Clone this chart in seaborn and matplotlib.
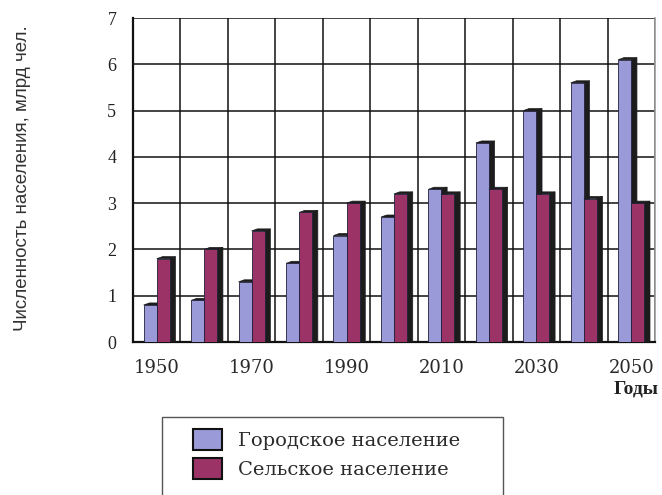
import numpy as np
import pandas as pd
import matplotlib
matplotlib.use("Agg")
import matplotlib.pyplot as plt
from matplotlib.patches import Polygon, Rectangle
import seaborn as sns

years = [1950, 1960, 1970, 1980, 1990, 2000, 2010, 2020, 2030, 2040, 2050]
urban = [0.8, 0.9, 1.3, 1.7, 2.3, 2.7, 3.3, 4.3, 5.0, 5.6, 6.1]
rural = [1.8, 2.0, 2.4, 2.8, 3.0, 3.2, 3.2, 3.3, 3.2, 3.1, 3.0]
series_names = ["Городское население", "Сельское население"]
colors = ["#9a9ad8", "#9b3367"]
year_labels = ["1950", "1970", "1990", "2010", "2030", "2050"]

df = pd.DataFrame({
    "year": [str(y) for y in years] * 2,
    "value": urban + rural,
    "series": [series_names[0]] * len(years) + [series_names[1]] * len(years),
})

sns.set_style("white")
serif = ["Liberation Serif", "DejaVu Serif"]
wide_serif = ["DejaVu Serif"]
sans = ["Liberation Sans", "DejaVu Sans"]

fig = plt.figure(figsize=(6.62, 4.95), dpi=100)
ax = fig.add_axes([0.2009, 0.309, 0.7885, 0.6545])

sns.barplot(data=df, x="year", y="value", hue="series", palette=colors,
            width=0.55, saturation=1, edgecolor="#20203a", linewidth=0.6,
            ax=ax, legend=True)

# pseudo-3D depth: dark side and top faces behind each bar
dx, dy = 0.12, 0.045
side_color = "#1c1c1c"
for i, cont in enumerate(ax.containers):
    for bar in cont:
        x0 = bar.get_x()
        w = bar.get_width()
        h = bar.get_height()
        x1 = x0 + w
        z = 3 + i
        bar.set_zorder(z + 0.1)
        side = Polygon([(x1, 0), (x1, h), (x1 + dx, h + dy), (x1 + dx, 0)],
                       closed=True, facecolor=side_color, edgecolor=side_color,
                       linewidth=0.5, zorder=z)
        top = Polygon([(x0, h), (x0 + dx, h + dy), (x1 + dx, h + dy), (x1, h)],
                      closed=True, facecolor=side_color, edgecolor=side_color,
                      linewidth=0.5, zorder=z)
        ax.add_patch(side)
        ax.add_patch(top)

handles, labels = ax.get_legend_handles_labels()
ax.get_legend().remove()

ax.set_xlim(-0.5, len(years) - 0.5)
ax.set_ylim(0, 7)

# grid: horizontal at each unit, vertical at category boundaries
ax.set_yticks(range(0, 8))
ax.set_xticks(np.arange(-0.5, len(years), 1.0))
ax.set_xticklabels([])
ax.set_xticks(np.arange(0, len(years), 2), minor=True)
ax.set_xticklabels(year_labels, minor=True, fontfamily=wide_serif,
                   fontsize=13, color="#2a2a2a")
ax.tick_params(axis="x", which="minor", length=0, pad=12)
ax.tick_params(axis="x", which="major", length=6, width=1.5, color="#111111",
               direction="out")
ax.tick_params(axis="y", length=6, width=1.5, color="#111111", direction="out",
               pad=6)
for lab in ax.get_yticklabels():
    lab.set_fontfamily(serif)
    lab.set_fontsize(13)
    lab.set_color("#222222")

ax.grid(True, which="major", color="#111111", linewidth=1.1, zorder=0.5)
ax.set_axisbelow(True)

ax.spines["left"].set_color("#111111")
ax.spines["left"].set_linewidth(1.6)
ax.spines["bottom"].set_color("#111111")
ax.spines["bottom"].set_linewidth(1.6)
ax.spines["top"].set_visible(False)
ax.spines["right"].set_color("#9a9a9a")
ax.spines["right"].set_linewidth(1.2)

ax.set_xlabel("")
ax.set_ylabel("")

fig.text(0.034, 0.64, "Численность населения, млрд чел.", rotation=90,
         ha="center", va="center", fontfamily=sans, fontsize=13.5,
         color="#333333")
fig.text(0.995, 0.214, "Годы", ha="right", va="center", fontfamily=serif,
         fontsize=14, fontweight="bold", color="#222222")

# legend box below the chart, running off the bottom edge
fig.patches.append(Rectangle((162 / 662, -0.05), (503 - 162) / 662,
                             0.05 + 1 - 417 / 495, transform=fig.transFigure,
                             fill=False, edgecolor="#555555", linewidth=1.0))
leg = fig.legend(handles, labels, loc="upper left",
                 bbox_to_anchor=(193 / 662, 1 - 429 / 495), ncol=1,
                 frameon=False, prop={"family": wide_serif, "size": 14},
                 handlelength=1.5, handleheight=1.3, handletextpad=0.8,
                 labelspacing=0.4, borderpad=0, borderaxespad=0)
for h in leg.legend_handles:
    h.set_edgecolor("#111111")
    h.set_linewidth(1.5)
for t in leg.get_texts():
    t.set_color("#2a2a2a")

fig.savefig("out.png", dpi=100)
